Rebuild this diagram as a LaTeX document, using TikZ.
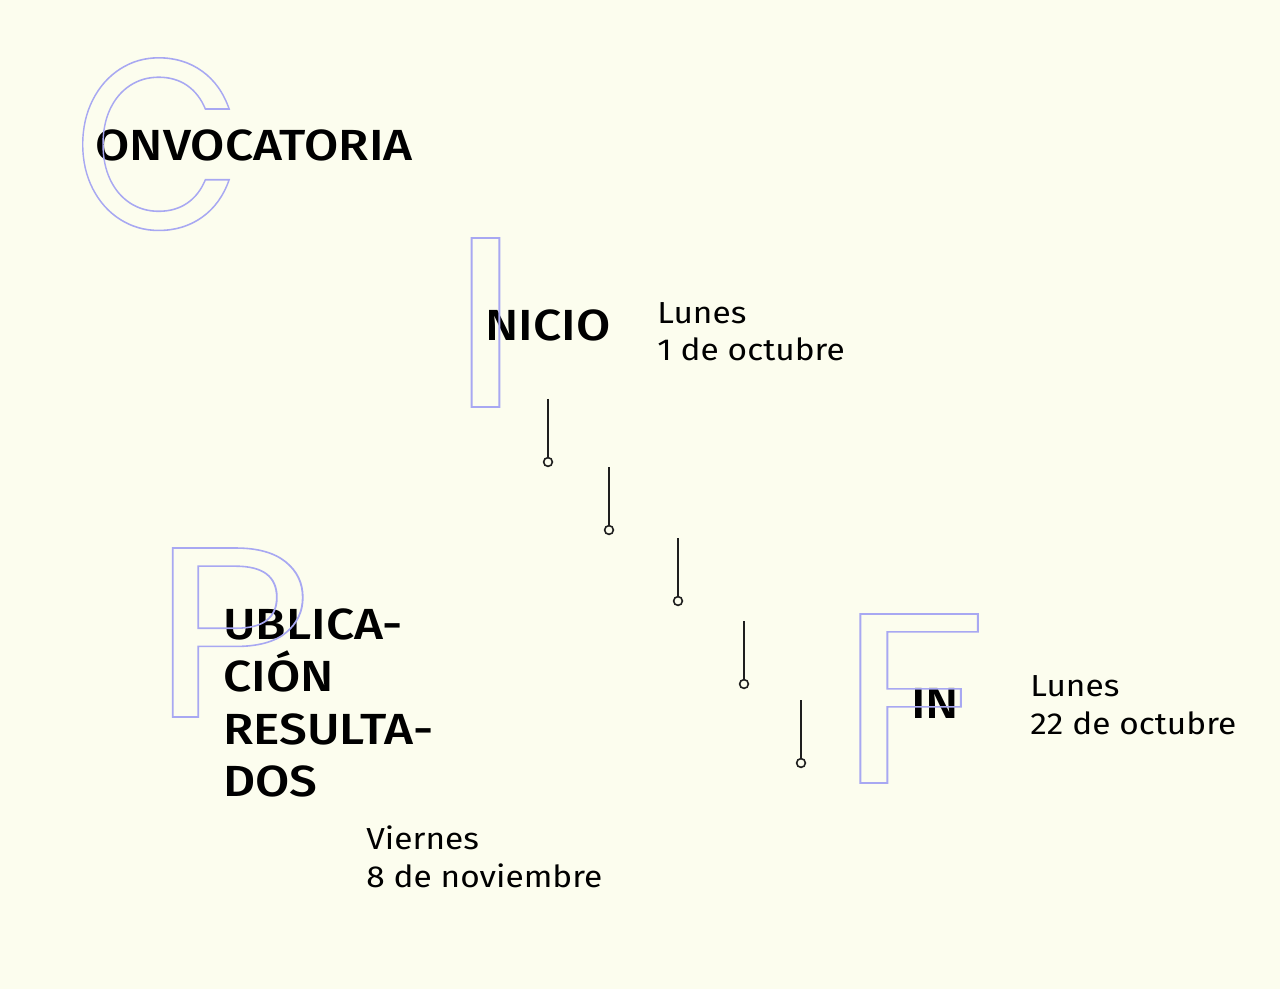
\documentclass[tikz,border=0pt]{standalone}
\usepackage{fontspec}
\setmainfont{Fira Sans}[FakeStretch=1.1]
\newfontfamily\titlefont{Fira Sans}[UprightFont={* Medium}, FakeStretch=1.14]
\newfontfamily\letterfont{Poppins}
\usetikzlibrary{positioning}

\definecolor{paper}{RGB}{252,253,238}
\definecolor{letterblue}{RGB}{168,168,242}
\definecolor{stemgray}{RGB}{30,30,30}
\newcommand{\hollow}[2]{\scalebox{#1}[1]{\special{pdf:literal direct 1 Tr 0.9 w}#2\special{pdf:literal direct 0 Tr}}}

\begin{document}
\begin{tikzpicture}[x=0.02cm, y=-0.02cm,
    title/.style={anchor=base west, inner sep=0pt, align=left, font=\fontsize{24.8}{29.6}\titlefont},
    datum/.style={anchor=base west, inner sep=0pt, align=left, font=\fontsize{17.3}{21.6}\selectfont},
    bigletter/.style={anchor=base west, inner sep=0pt, text=letterblue, font=\fontsize{138}{138}\letterfont},
    pin/.style={circle, draw=stemgray, fill=paper, line width=0.9pt, inner sep=0pt, minimum size=5pt},
    stemline/.style={draw=stemgray, line width=1pt}]
    % Background
    \fill[paper] (0,0) rectangle (1280,989);

    % Titles
    \node[title] (convocatoria) at (95,161) {ONVOCATORIA};
    \node[title] (inicio) at (485,341) {NICIO};
    \node[title] (publicacion) at (223,796) {UBLICA-\\CIÓN\\RESULTA-\\DOS};
    \node[title] (fin) at (911,718) {IN};

    % Dates
    \node[datum] (inicioDate) at (657,361) {Lunes\\1 de octubre};
    \node[datum] (finDate) at (1030,734) {Lunes\\22 de octubre};
    \node[datum] (publicacionDate) at (366,887) {Viernes\\8 de noviembre};

    % Pins
    \foreach \i/\x/\t/\b in {1/548/399/462, 2/609/467/530, 3/678/538/601, 4/744/621/684, 5/801/700/763} {
        \coordinate (top\i) at (\x,\t);
        \node[pin] (pin\i) at (\x,\b) {};
        \draw[stemline] (top\i) -- (pin\i);
    }

    % Hollow initials
    \node[bigletter] (bigC) at (73,229) {\hollow{0.9}{C}};
    \node[bigletter] (bigI) at (448,407) {\hollow{1.25}{I}};
    \node[bigletter] (bigP) at (151,717) {\hollow{1.15}{P}};
    \node[bigletter] (bigF) at (837,783) {\hollow{1.23}{F}};
\end{tikzpicture}
\end{document}
